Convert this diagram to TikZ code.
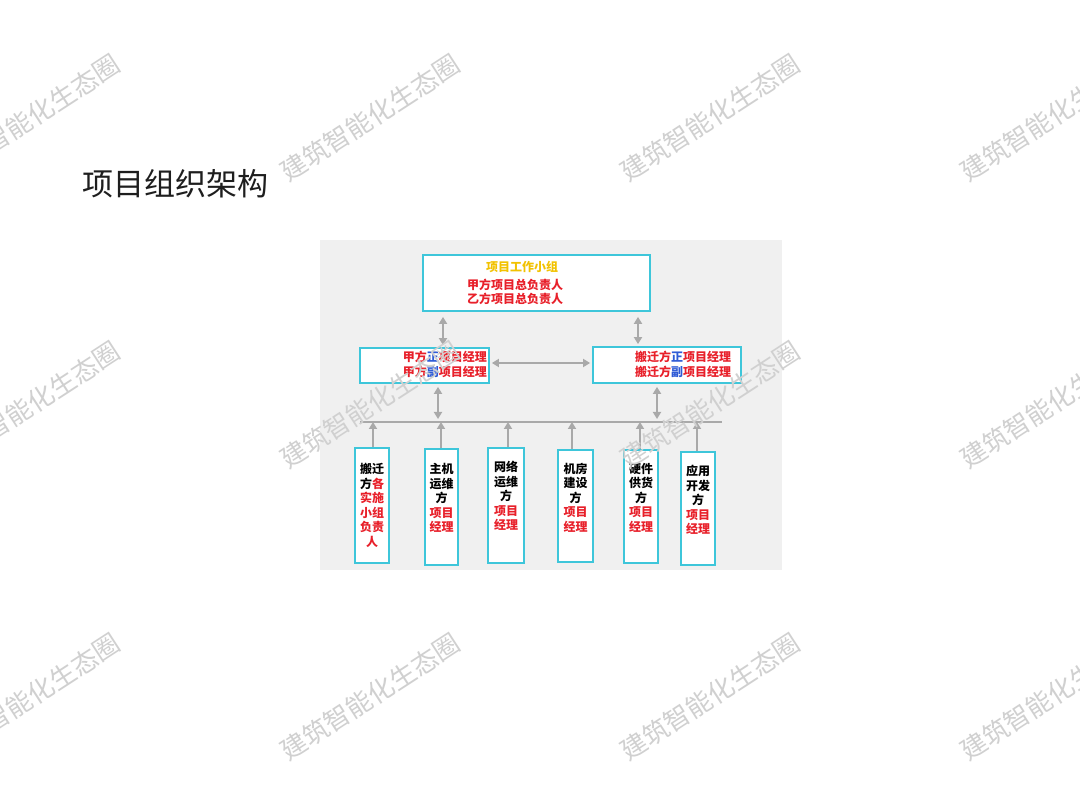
\documentclass[tikz,border=0pt]{standalone}
\usepackage{fontspec}
\setmainfont{Noto Sans CJK SC}
\usetikzlibrary{arrows.meta,calc}
\definecolor{boxc}{HTML}{3EC6DA}
\definecolor{rd}{HTML}{E8202A}
\definecolor{bl}{HTML}{2F5BD6}
\definecolor{yl}{HTML}{F2C200}
\definecolor{arr}{HTML}{A9A9A9}
\definecolor{wm}{HTML}{D0D0D0}
\definecolor{panel}{HTML}{F0F0F0}
\definecolor{ttl}{HTML}{1E1E1E}
\begin{document}
\begin{tikzpicture}[x=1pt,y=-1pt,
  box/.style={draw=boxc, line width=1.8pt, fill=white, inner sep=0pt},
  lbl/.style={font=\fontsize{12}{14.5}\selectfont\bfseries, inner sep=0pt},
  btxt/.style={font=\fontsize{12}{14.5}\selectfont\bfseries, inner sep=0pt, align=center, anchor=north},
  dbl/.style={draw=arr, line width=1.8pt, {Triangle[length=7pt,width=8pt]}-{Triangle[length=7pt,width=8pt]}},
  upa/.style={draw=arr, line width=1.8pt, -{Triangle[length=7pt,width=8pt]}},
  busline/.style={draw=arr, line width=1.5pt},
  wmark/.style={text=wm, font=\fontsize{26}{26}\selectfont, rotate=33, inner sep=0pt}]
\useasboundingbox (0,0) rectangle (1080,810);
\fill[white] (0,0) rectangle (1080,810);

% title
\node[font=\fontsize{31}{31}\selectfont, text=ttl, inner sep=0pt] (title) at (175,184) {项目组织架构};

% panel
\fill[panel] (320,240) rectangle (782,570);

% top box
\node[box, minimum width=227pt, minimum height=56pt] (top) at (536.5,283) {};
\node[lbl, text=yl] (toph) at (522,267) {项目工作小组};
\node[lbl, text=rd, anchor=west] (topa) at (467,285) {甲方项目总负责人};
\node[lbl, text=rd, anchor=west] (topb) at (467,299) {乙方项目总负责人};

% middle boxes
\node[box, minimum width=129pt, minimum height=35pt] (lm) at (424.5,365.5) {};
\node[lbl, text=rd, anchor=east] (lma) at (487,357) {甲方\textcolor{bl}{正}项目经理};
\node[lbl, text=rd, anchor=east] (lmb) at (487,372) {甲方\textcolor{bl}{副}项目经理};

\node[box, minimum width=148pt, minimum height=36pt] (rm) at (667,365) {};
\node[lbl, text=rd, anchor=west] (rma) at (635,357) {搬迁方\textcolor{bl}{正}项目经理};
\node[lbl, text=rd, anchor=west] (rmb) at (635,372) {搬迁方\textcolor{bl}{副}项目经理};

% bottom boxes
\node[box, minimum width=34pt, minimum height=115pt] (b1) at (372,505.5) {};
\node[box, minimum width=33pt, minimum height=116pt] (b2) at (441.5,507) {};
\node[box, minimum width=36pt, minimum height=115pt] (b3) at (506,505.5) {};
\node[box, minimum width=35pt, minimum height=112pt] (b4) at (575.5,506) {};
\node[box, minimum width=34pt, minimum height=113pt] (b5) at (641,506.5) {};
\node[box, minimum width=34pt, minimum height=113pt] (b6) at (698,508.5) {};

\node[btxt] (t1) at (372,463) {搬迁\\方\textcolor{rd}{各}\\\textcolor{rd}{实施}\\\textcolor{rd}{小组}\\\textcolor{rd}{负责}\\\textcolor{rd}{人}};
\node[btxt] (t2) at (441.5,463) {主机\\运维\\方\\\textcolor{rd}{项目}\\\textcolor{rd}{经理}};
\node[btxt] (t3) at (506,461) {网络\\运维\\方\\\textcolor{rd}{项目}\\\textcolor{rd}{经理}};
\node[btxt] (t4) at (575.5,463) {机房\\建设\\方\\\textcolor{rd}{项目}\\\textcolor{rd}{经理}};
\node[btxt] (t5) at (641,463) {硬件\\供货\\方\\\textcolor{rd}{项目}\\\textcolor{rd}{经理}};
\node[btxt] (t6) at (698,465) {应用\\开发\\方\\\textcolor{rd}{项目}\\\textcolor{rd}{经理}};

% bus
\coordinate (busL) at (360,422);
\coordinate (busR) at (722,422);
\draw[busline] (busL) -- (busR);

% connectors
\draw[dbl, shorten <=5pt, shorten >=2pt] (443,0 |- top.south) -- (443,0 |- lm.north);
\draw[dbl, shorten <=5pt, shorten >=2pt] (638,0 |- top.south) -- (638,0 |- rm.north);
\draw[dbl, shorten <=2pt, shorten >=2pt] (lm.east |- 0,363) -- (rm.west |- 0,363);
\draw[dbl, shorten <=3pt, shorten >=3pt] (438,0 |- lm.south) -- (438,0 |- busL);
\draw[dbl, shorten <=3pt, shorten >=3pt] (657,0 |- rm.south) -- (657,0 |- busL);
\draw[upa] (373,0 |- b1.north) -- (373,0 |- busL);
\draw[upa] (441,0 |- b2.north) -- (441,0 |- busL);
\draw[upa] (508,0 |- b3.north) -- (508,0 |- busL);
\draw[upa] (572,0 |- b4.north) -- (572,0 |- busL);
\draw[upa] (640,0 |- b5.north) -- (640,0 |- busL);
\draw[upa] (697,0 |- b6.north) -- (697,0 |- busL);

% watermarks
\foreach \wx in {30,370,710,1050}{
  \foreach \wy in {118,405,697}{
    \node[wmark] at (\wx,\wy) {建筑智能化生态圈};
  }
}
\end{tikzpicture}
\end{document}
